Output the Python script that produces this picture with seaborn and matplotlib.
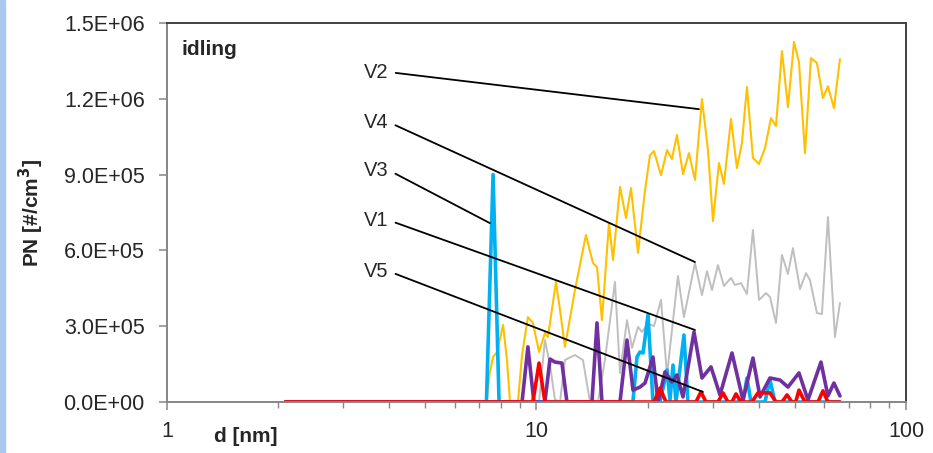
import numpy as np
import pandas as pd
import seaborn as sns
import matplotlib.pyplot as plt
from matplotlib.patches import Rectangle
from matplotlib.ticker import FixedLocator, FuncFormatter, LogLocator, NullFormatter

# particle size distributions at idling, d [nm] vs PN [1e5 #/cm3]
v2_d = [2.09, 7.32, 7.48, 7.63, 7.82, 8.12, 8.32, 8.48, 8.91, 9.14, 9.48, 9.78, 10.16, 10.54,
        10.74, 11.29, 11.58, 11.94, 12.71, 13.61, 14.22, 14.58, 15.04, 15.71, 16.11, 16.83,
        17.47, 18.02, 18.83, 19.67, 20.29, 20.80, 21.73, 22.56, 23.26, 24.00, 24.92, 25.86,
        26.85, 28.05, 29.12, 30.04, 31.18, 32.17, 33.61, 34.88, 35.99, 37.12, 38.54, 40.02,
        41.54, 43.12, 44.49, 46.18, 47.94, 49.77, 51.34, 53.30, 55.32, 57.42, 59.61, 61.50,
        63.84, 66.28]
v2_pn = [0, 0, 1.19, 1.78, 1.98, 3.05, 1.66, 0, 0, 1.86, 3.36, 3.13, 1.98, 2.73,
         2.57, 4.75, 3.64, 2.18, 4.43, 6.61, 5.50, 5.34, 3.24, 7.08, 5.62, 8.51,
         7.28, 8.47, 5.90, 8.39, 9.77, 9.93, 8.98, 9.97, 9.62, 10.57, 9.02, 9.85,
         8.79, 11.99, 9.97, 7.16, 9.46, 8.63, 11.20, 9.26, 10.25, 12.47, 9.66, 9.42,
         10.05, 11.24, 10.92, 13.89, 11.67, 14.25, 13.45, 9.85, 13.61, 13.42, 12.03, 12.50,
         11.63, 13.57]

v4_d = [2.09, 10.16, 10.54, 10.88, 11.22, 11.58, 11.94, 12.71, 13.36, 13.96, 14.67, 15.32,
        16.31, 16.83, 17.58, 18.14, 18.83, 19.30, 20.04, 20.80, 21.73, 22.56, 24.15, 25.07,
        26.85, 28.05, 28.94, 29.85, 30.99, 32.17, 33.61, 34.45, 35.76, 37.12, 38.54, 40.02,
        41.80, 42.85, 44.49, 46.18, 47.94, 49.45, 51.66, 53.63, 54.98, 57.42, 59.24, 61.50,
        64.24, 66.28]
v4_pn = [0, 0, 2.45, 1.46, 0.10, 0, 1.66, 1.86, 1.66, 0, 0, 1.66,
         4.75, 1.15, 3.24, 2.14, 2.97, 2.77, 3.10, 3.00, 4.04, 1.07, 4.99, 3.36,
         5.50, 4.23, 5.18, 4.43, 5.42, 4.59, 4.91, 4.63, 4.71, 4.27, 6.81, 4.04,
         4.31, 4.16, 3.13, 5.82, 5.07, 6.09, 4.47, 5.10, 4.83, 3.52, 3.48, 7.32,
         2.57, 3.92]

v3_d = [2.09, 7.32, 7.63, 7.92, 18.24, 18.71, 19.06, 19.43, 20.04, 20.67, 21.59, 22.56,
        22.98, 23.42, 23.85, 25.07, 25.70, 36.21, 37.12, 38.06, 41.54, 42.85, 44.21, 66.28]
v3_pn = [0, 0, 9.0, 0, 0, 1.78, 1.98, 1.94, 3.44, 0, 0, 1.27,
         0.08, 1.46, 0, 2.65, 0, 0, 0.95, 0, 0, 0.87, 0, 0]

v1_d = [2.09, 9.14, 9.48, 9.84, 10.54, 10.88, 11.22, 11.72, 12.09, 14.13, 14.58, 15.04,
        16.83, 17.58, 18.25, 19.06, 19.67, 20.67, 21.33, 22.28, 23.26, 24.00, 24.92, 26.69,
        28.05, 29.67, 31.38, 33.82, 36.21, 38.54, 40.27, 42.85, 45.60, 47.94, 51.34, 54.30,
        58.88, 61.50, 63.84, 66.28]
v1_pn = [0, 0, 2.18, 0, 0, 1.70, 1.58, 1.54, 0, 0, 3.13, 0,
         0, 2.45, 0.47, 0.59, 0.75, 1.78, 0, 1.19, 0.79, 1.07, 0.20, 2.77,
         0.95, 1.39, 0.28, 1.94, 0.08, 1.74, 0.20, 0.95, 0.87, 0.59, 1.15, 0.08,
         1.58, 0.24, 0.75, 0.24]

v5_d = [2.09, 9.78, 10.16, 10.54, 20.80, 21.59, 22.42, 27.02, 27.87, 28.76, 30.99, 31.97,
        32.98, 33.82, 34.67, 35.76, 38.30, 39.77, 42.85, 44.49, 46.18, 47.64, 49.15, 50.30,
        51.34, 53.30, 57.79, 59.61, 61.50, 66.28]
v5_pn = [0, 0, 1.54, 0, 0, 0.55, 0, 0, 0.40, 0, 0, 0.36,
         0, 0, 0.32, 0, 0, 0.36, 0.36, 0, 0, 0.28, 0, 0,
         0.47, 0, 0, 0.44, 0, 0]

series = [
    ("V4", v4_d, v4_pn, "#BFBFBF", 1.4),
    ("V2", v2_d, v2_pn, "#FFC000", 1.5),
    ("V3", v3_d, v3_pn, "#00B0F0", 2.6),
    ("V1", v1_d, v1_pn, "#7030A0", 2.6),
    ("V5", v5_d, v5_pn, "#FF0000", 2.6),
]

# label text position, leader end on the curve
labels = {
    "V2": ((3.68, 13.06), (27.53, 11.59)),
    "V4": ((3.68, 11.08), (26.85, 5.54)),
    "V3": ((3.68, 9.18), (7.48, 7.08)),
    "V1": ((3.68, 7.20), (26.85, 2.85)),
    "V5": ((3.68, 5.18), (28.22, 0.40)),
}

sns.set_style("ticks")
plt.rcParams["font.family"] = ["Liberation Sans", "DejaVu Sans"]

fig = plt.figure(figsize=(9.33, 4.53), dpi=100)
ax = fig.add_axes([0.179, 0.1126, 0.792, 0.8366])

for name, d, pn, col, lw in series:
    df = pd.DataFrame({"d": d, "PN": np.array(pn) * 1e5})
    sns.lineplot(data=df, x="d", y="PN", ax=ax, color=col, lw=lw, sort=False,
                 estimator=None, solid_joinstyle="round", solid_capstyle="round")

for name, (txt, end) in labels.items():
    ax.annotate(name, xy=(end[0], end[1] * 1e5), xytext=(txt[0], txt[1] * 1e5),
                fontsize=14.5, ha="center", va="center",
                arrowprops=dict(arrowstyle="-", color="black", lw=1.3,
                                shrinkA=3, shrinkB=0, relpos=(1, 0.5)))

ax.set_xscale("log")
ax.set_xlim(1, 100)
ax.set_ylim(0, 1.5e6)
ax.xaxis.set_major_locator(FixedLocator([1, 10, 100]))
ax.xaxis.set_major_formatter(FuncFormatter(lambda v, p: f"{v:g}"))
ax.xaxis.set_minor_locator(LogLocator(base=10, subs=np.arange(2, 10)))
ax.xaxis.set_minor_formatter(NullFormatter())
ax.set_yticks(np.arange(0, 1.5e6 + 1, 3e5))
ax.yaxis.set_major_formatter(FuncFormatter(lambda v, p: f"{v:.1E}"))

ax.tick_params(axis="x", which="major", length=6, width=1.1, color="#868686",
               labelsize=15.5, pad=8)
ax.tick_params(axis="x", which="minor", length=4, width=1.0, color="#868686")
ax.tick_params(axis="y", length=6, width=1.1, color="#868686", labelsize=15.5, pad=10)

for side in ["left", "bottom"]:
    ax.spines[side].set_color("#868686")
    ax.spines[side].set_linewidth(1.4)
for side in ["top", "right"]:
    ax.spines[side].set_color("#404040")
    ax.spines[side].set_linewidth(1.4)
    ax.spines[side].set_visible(True)

ax.set_xlabel("d [nm]", fontsize=15, fontweight="bold")
ax.xaxis.set_label_coords(0.107, -0.092)
ax.xaxis.label.set_va("center")
ax.set_ylabel("PN [#/cm$^\\mathbf{3}$]", fontsize=15, fontweight="bold")
ax.yaxis.set_label_coords(-0.184, 0.5)
ax.yaxis.label.set_va("center")

ax.text(0.02, 0.929, "idling", transform=ax.transAxes, fontsize=15,
        fontweight="bold", ha="left", va="center")

fig.patches.append(Rectangle((0, 0), 5 / 933, 1, transform=fig.transFigure,
                             color="#A9C8EE", zorder=0))

fig.savefig("out.png", dpi=100)
